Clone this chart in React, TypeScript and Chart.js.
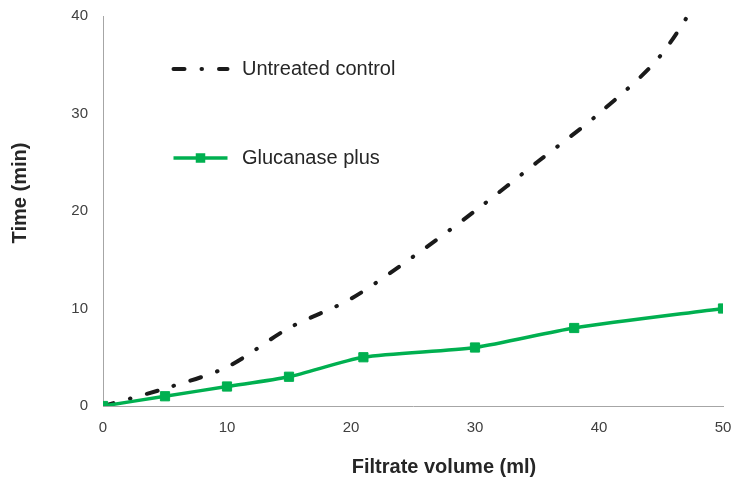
import React, { useEffect, useRef } from "react";
import { Chart, registerables } from "chart.js";

Chart.register(...registerables);

// ---- Data ----
const controlVolumes = [0, 5, 10, 15, 20, 25, 30, 35, 40, 45, 50];
const controlTimes = [0, 1.8, 4.0, 8, 11, 15.3, 20, 25, 30, 36, 46];
const glucanaseVolumes = [0, 5, 10, 15, 21, 30, 38, 50];
const glucanaseTimes = [0, 1, 2, 3, 5, 6, 8, 10];
const seriesLabels = ["Untreated control", "Glucanase plus"];
const xTitle = "Filtrate volume (ml)";
const yTitle = "Time (min)";
const xMin = 0, xMax = 50, xStep = 10;
const yMin = 0, yMax = 40, yStep = 10;

const FONT = '"Liberation Sans", Arial, sans-serif';
const GREEN = "#00B050";
const BLACK = "#1a1a1a";
const AXIS = "#a6a6a6";

const overlayPlugin = {
  id: "overlay",
  afterDraw(chart: any) {
    const { ctx, chartArea: a } = chart;
    ctx.save();
    // Legend
    chart.data.datasets.forEach((ds: any, i: number) => {
      const y = a.top + 53 + i * 89;
      const x0 = a.left + 70.5;
      const x1 = a.left + 124.5;
      ctx.beginPath();
      ctx.strokeStyle = ds.borderColor;
      ctx.lineWidth = ds.borderWidth;
      ctx.lineCap = ds.borderCapStyle || "butt";
      ctx.setLineDash(ds.borderDash || []);
      ctx.moveTo(x0, y);
      ctx.lineTo(x1, y);
      ctx.stroke();
      ctx.setLineDash([]);
      if (ds.pointRadius > 0) {
        const s = 9.5;
        const cx = (x0 + x1) / 2;
        ctx.fillStyle = ds.pointBackgroundColor;
        ctx.fillRect(cx - s / 2, y - s / 2, s, s);
      }
      ctx.fillStyle = "#262626";
      ctx.font = `20px ${FONT}`;
      ctx.textAlign = "left";
      ctx.textBaseline = "middle";
      ctx.fillText(ds.label, a.left + 139, y);
    });
    // Axis titles
    ctx.fillStyle = "#262626";
    ctx.font = `bold 20px ${FONT}`;
    ctx.textAlign = "center";
    ctx.textBaseline = "middle";
    ctx.fillText(xTitle, a.left + a.width * 0.55, a.bottom + 61);
    ctx.translate(20, a.top + 177);
    ctx.rotate(-Math.PI / 2);
    ctx.fillText(yTitle, 0, 0);
    ctx.restore();
  },
};

export default function App() {
  const ref = useRef<HTMLCanvasElement | null>(null);
  useEffect(() => {
    document.body.style.margin = "0";
    if (!ref.current) return;
    const chart = new Chart(ref.current, {
      type: "line",
      data: {
        datasets: [
          {
            label: seriesLabels[0],
            data: controlVolumes.map((v, i) => ({ x: v, y: controlTimes[i] })),
            borderColor: BLACK,
            borderWidth: 4,
            borderDash: [11, 17, 0.5, 17],
            borderCapStyle: "round",
            pointRadius: 0,
            tension: 0.3,
            fill: false,
            order: 1,
          },
          {
            label: seriesLabels[1],
            data: glucanaseVolumes.map((v, i) => ({ x: v, y: glucanaseTimes[i] })),
            borderColor: GREEN,
            borderWidth: 3.5,
            pointStyle: "rect",
            pointRadius: 6.5,
            pointBorderWidth: 1,
            pointBackgroundColor: GREEN,
            pointBorderColor: GREEN,
            tension: 0.25,
            fill: false,
            order: 0,
          },
        ] as any,
      },
      options: {
        animation: false,
        responsive: false,
        layout: { padding: { top: 16, right: 10, left: 0, bottom: 0 } },
        plugins: {
          legend: { display: false },
          tooltip: { enabled: false },
          title: { display: false },
        },
        scales: {
          x: {
            type: "linear",
            min: xMin,
            max: xMax,
            ticks: {
              stepSize: xStep,
              padding: 13,
              maxRotation: 0,
              color: "#404040",
              font: { size: 15, family: FONT },
            },
            grid: { display: false, drawTicks: false },
            border: { display: true, color: AXIS, width: 1 },
            afterFit: (s: any) => {
              s.height = 74;
              s.paddingLeft = 0;
              s.paddingRight = 0;
            },
          },
          y: {
            type: "linear",
            min: yMin,
            max: yMax,
            ticks: {
              stepSize: yStep,
              padding: 15,
              color: "#404040",
              font: { size: 15, family: FONT },
            },
            grid: { display: false, drawTicks: false },
            border: { display: true, color: AXIS, width: 1 },
            afterFit: (s: any) => {
              s.width = 103;
              s.paddingTop = 0;
              s.paddingBottom = 0;
            },
          },
        },
      },
      plugins: [overlayPlugin],
    });
    return () => chart.destroy();
  }, []);
  return (
    <div style={{ width: 733, height: 480 }}>
      <canvas ref={ref} width={733} height={480} style={{ display: "block" }} />
    </div>
  );
}
